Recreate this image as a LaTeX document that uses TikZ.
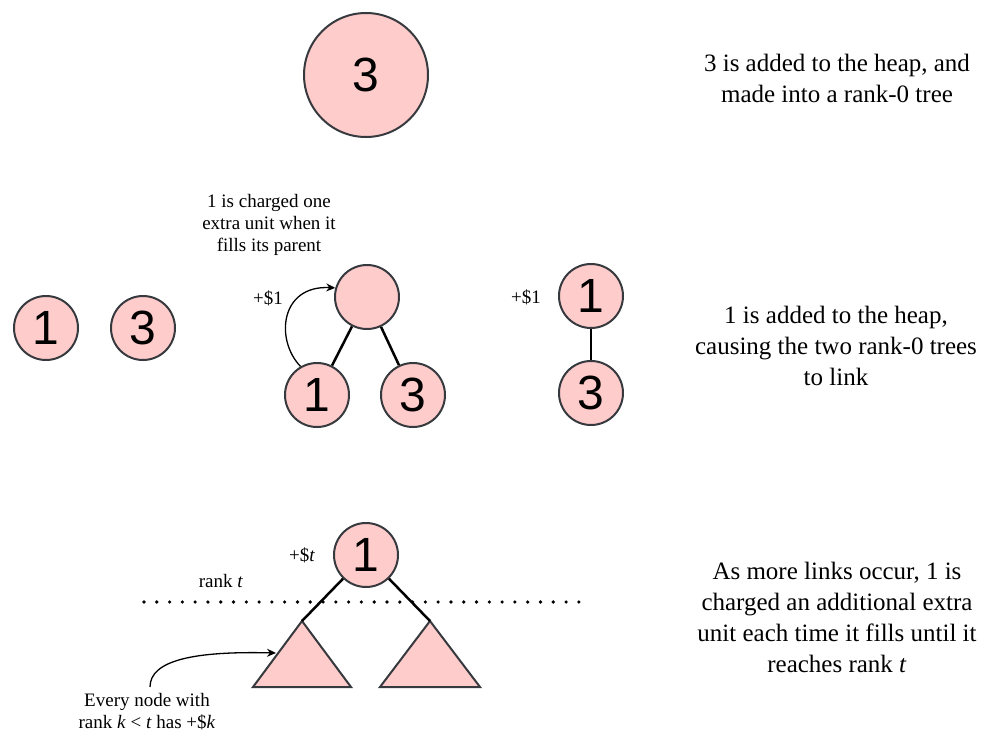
\documentclass[tikz,border=0pt]{standalone}
\usepackage{fontspec}
\setmainfont{Liberation Serif}
\newfontfamily\digitfont{Liberation Sans}
\usetikzlibrary{arrows.meta}
\definecolor{nodefill}{HTML}{FFCCCC}
\definecolor{nodeline}{HTML}{36393D}
\begin{document}
\begin{tikzpicture}[x=1pt,y=-1pt,
  keynode/.style={circle, fill=nodefill, draw=nodeline, line width=2pt,
    minimum size=64pt, inner sep=0pt, font=\digitfont\fontsize{48}{48}\selectfont},
  bignode/.style={keynode, minimum size=124pt},
  link/.style={draw=black, line width=2.5pt},
  subtree/.style={fill=nodefill, draw=nodeline, line width=2pt, line join=miter},
  note/.style={align=center, font=\fontsize{25}{31}\selectfont, inner sep=0pt},
  small/.style={align=center, font=\fontsize{19}{22}\selectfont, inner sep=0pt},
  charge/.style={-{Stealth[length=9pt,width=8pt]}, line width=1.3pt},
  rankline/.style={draw=black, line width=3.6pt, line cap=round,
    dash pattern=on 0pt off 12.79pt}
]
\useasboundingbox (0,0) rectangle (986,736);

% --- step 1: a single rank-0 tree
\node[bignode] (big3) at (366,75) {3};
\node[note] (txt1) at (837,78) {3 is added to the heap, and\\made into a rank-0 tree};

% --- step 2: two rank-0 trees, then the link
\node[keynode] (a1) at (46,328) {1};
\node[keynode] (a3) at (143,328) {3};

\node[keynode] (p)  at (367,297) {};
\node[keynode] (c1) at (317,395) {1};
\node[keynode] (c3) at (413,395) {3};
\draw[link] (p) -- (c1);
\draw[link] (p) -- (c3);
\draw[charge] (c1.120) .. controls (275,340) and (280,285) .. (p.164);
\node[small] (lbl1) at (268,298) {+\$1};
\node[small] (txtc) at (269,225) {1 is charged one\\extra unit when it\\fills its parent};

\node[keynode] (r1) at (591,296) {1};
\node[keynode] (r3) at (591,393) {3};
\draw[link] (r1) -- (r3);
\node[small] (lbl2) at (526,297) {+\$1};

\node[note] (txt2) at (836,346) {1 is added to the heap,\\causing the two rank-0 trees\\to link};

% --- step 3: rank t tree
\coordinate (dl) at (144,602);
\coordinate (dr) at (579,602);
\draw[rankline] (dl) -- (dr);

\coordinate (tl) at (302,621);
\coordinate (tr) at (430,621);
\draw[subtree] (tl) -- ++(-49,66) -- ++(98,0) -- cycle;
\draw[subtree] (tr) -- ++(-50,66) -- ++(100,0) -- cycle;

\node[keynode] (b1) at (366,555) {1};
\draw[link] (b1) -- (tl);
\draw[link] (b1) -- (tr);

\node[small] (lblt) at (302,555) {+\$\textit{t}};
\node[small] (rankt) at (221,581) {rank \textit{t}};

\coordinate (arrS) at (150,687);
\coordinate (tedge) at (276,653);
\draw[charge] (arrS) .. controls (150,660) and (195,651) .. (tedge);
\node[small] (txtk) at (147,712) {Every node with\\rank \textit{k} < \textit{t} has +\$\textit{k}};

\node[note] (txt3) at (837,617) {As more links occur, 1 is\\charged an additional extra\\unit each time it fills until it\\reaches rank \textit{t}};
\end{tikzpicture}
\end{document}
